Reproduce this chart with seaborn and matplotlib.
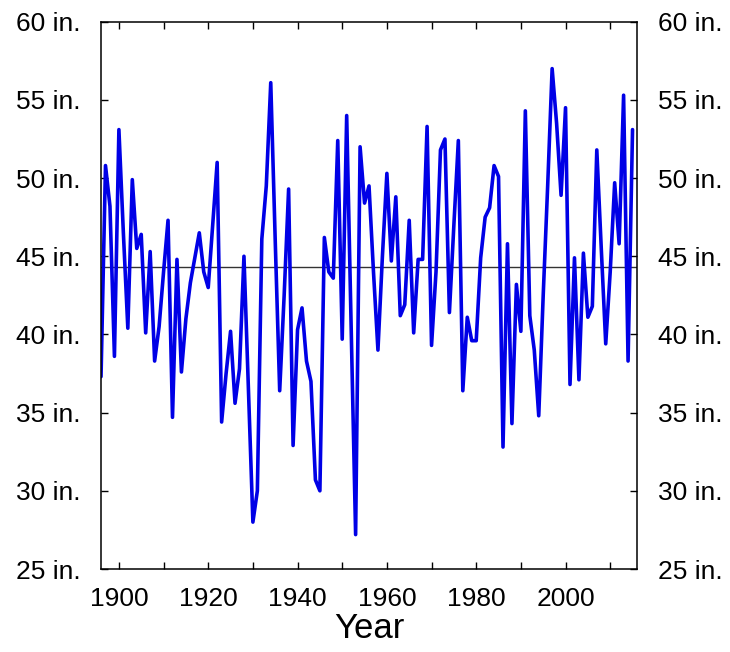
import pandas as pd
import seaborn as sns
import matplotlib.pyplot as plt

years = list(range(1896, 2016))
precip = [
    37.3, 50.8, 48.2, 38.6, 53.1, 46.5, 40.4, 49.9, 45.5, 46.4,   # 1896-1905
    40.1, 45.3, 38.3, 40.5, 44.0, 47.3, 34.7, 44.8, 37.6, 41.0,   # 1906-1915
    43.3, 44.9, 46.5, 44.0, 43.0, 47.0, 51.0, 34.4, 37.5, 40.2,   # 1916-1925
    35.6, 37.8, 45.0, 36.5, 28.0, 30.0, 46.1, 49.5, 56.1, 46.0,   # 1926-1935
    36.4, 42.5, 49.3, 32.9, 40.3, 41.7, 38.3, 37.0, 30.7, 30.0,   # 1936-1945
    46.2, 44.0, 43.6, 52.4, 39.7, 54.0, 40.5, 27.2, 52.0, 48.4,   # 1946-1955
    49.5, 44.0, 39.0, 45.0, 50.3, 44.7, 48.8, 41.2, 41.9, 47.3,   # 1956-1965
    40.1, 44.8, 44.8, 53.3, 39.3, 44.0, 51.8, 52.5, 41.4, 47.0,   # 1966-1975
    52.4, 36.4, 41.1, 39.6, 39.6, 44.9, 47.5, 48.1, 50.8, 50.1,   # 1976-1985
    32.8, 45.8, 34.3, 43.2, 40.2, 54.3, 41.2, 39.0, 34.8, 42.5,   # 1986-1995
    49.5, 57.0, 53.5, 48.9, 54.5, 36.8, 44.9, 37.1, 45.2, 41.1,   # 1996-2005
    41.8, 51.8, 45.5, 39.4, 44.0, 49.7, 45.8, 55.3, 38.3, 53.1,   # 2006-2015
]
mean_precip = 44.3

x_ticks = list(range(1900, 2020, 10))
x_labels = [str(y) if y % 20 == 0 else '' for y in x_ticks]
y_ticks = [25, 30, 35, 40, 45, 50, 55, 60]
y_labels = [f'{v} in.' for v in y_ticks]

sns.set_style('ticks')
plt.rcParams['font.family'] = ['Liberation Sans', 'DejaVu Sans']
plt.rcParams['text.color'] = 'black'
plt.rcParams['axes.labelcolor'] = 'black'

df = pd.DataFrame({'year': years, 'precip': precip})

fig = plt.figure(figsize=(7.3, 6.52), dpi=100)
ax = fig.add_axes([0.1384, 0.1273, 0.7342, 0.8394])

ax.axhline(mean_precip, color='#333333', linewidth=1.0, zorder=1)
sns.lineplot(data=df, x='year', y='precip', color='#0000e6', linewidth=2.6, ax=ax, zorder=2)

ax.set_xlim(1896, 2016)
ax.set_ylim(25, 60)
ax.set_xticks(x_ticks)
ax.set_xticklabels(x_labels)
ax.set_yticks(y_ticks)
ax.set_yticklabels(y_labels)

ax.tick_params(axis='both', direction='in', length=5, width=1, labelsize=19,
               colors='black', top=True, right=True, labelright=True)
ax.tick_params(axis='x', pad=13)
ax.tick_params(axis='y', pad=15)

for s in ax.spines.values():
    s.set_linewidth(1.1)
    s.set_color('black')

ax.set_xlabel('Year', fontsize=25, labelpad=1)
ax.set_ylabel('')

fig.savefig('out.png', dpi=100)
